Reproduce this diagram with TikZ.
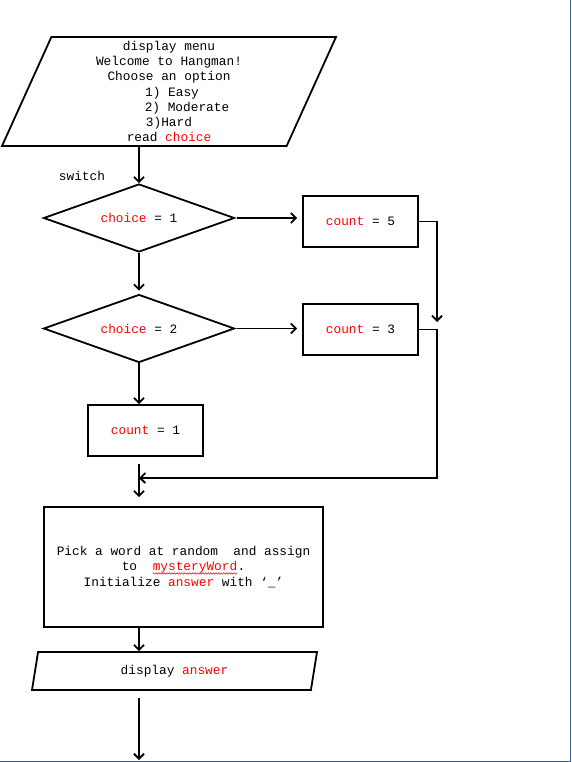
\documentclass[tikz,border=0pt]{standalone}
\usepackage{fontspec}
\usepackage{xcolor}
\usepackage{tikz}
\usetikzlibrary{arrows.meta,shapes.geometric,decorations.pathmorphing}
\newfontfamily\flowfont{Liberation Mono}
\definecolor{VarRed}{HTML}{FF0000}
\definecolor{PageEdge}{HTML}{3E5F8A}
\newcommand{\varname}[1]{\textcolor{VarRed}{#1}}
\newcommand{\squiggly}[1]{%
    \tikz[baseline=(sqw.base)]{%
        \node[inner sep=0pt, outer sep=0pt, minimum width=0pt, minimum height=0pt,
            draw=none, text=VarRed] (sqw) {#1};
        \draw[VarRed, line width=0.5pt, decorate,
            decoration={snake, amplitude=0.7pt, segment length=2.6pt}]
            ([yshift=-2.5pt]sqw.base west) -- ([yshift=-2.5pt]sqw.base east);
    }%
}
\tikzset{
    flowtext/.style={font=\flowfont\fontsize{12.8}{15.3}\selectfont, align=center},
    procbox/.style={flowtext, draw, line width=1.8pt, inner sep=0pt,
        minimum width=115pt, minimum height=51pt},
    decision/.style={flowtext, draw, line width=1.8pt, diamond, aspect=2.8,
        inner sep=0pt, minimum width=191pt, minimum height=68pt},
    iobox/.style={flowtext, draw, line width=1.8pt, trapezium,
        trapezium left angle=64, trapezium right angle=116,
        trapezium stretches body, inner sep=0pt},
    arr/.style={line width=1.8pt, -{Straight Barb[length=5pt,width=10pt]}}
}

\begin{document}
\begin{tikzpicture}[x=1pt,y=-1pt]
    \useasboundingbox (0,0) rectangle (571,762);
    \draw[PageEdge, line width=1.5pt] (570.25,0) -- (570.25,761.25) -- (0,761.25);

    \node[iobox, minimum width=334pt, minimum height=109pt] (menu) at (169,91.5)
        {display menu\\Welcome to Hangman!\\Choose an option\\
         \hspace*{6pt}1) Easy\\\hspace*{36pt}2) Moderate\\3)Hard\\
         read \varname{choice}};
    \node[flowtext] (sw) at (82,176) {switch};

    \node[decision] (c1) at (139,218) {\varname{choice} = 1};
    \node[decision] (c2) at (139,328.5) {\varname{choice} = 2};
    \node[procbox] (cnt5) at (360.5,221.5) {\varname{count} = 5};
    \node[procbox] (cnt3) at (360.5,329.5) {\varname{count} = 3};
    \node[procbox] (cnt1) at (145.5,430.5) {\varname{count} = 1};

    \node[procbox, minimum width=279pt, minimum height=120pt] (pick) at (183.5,567)
        {Pick a word at random~ and assign\\
         to~~\squiggly{mysteryWord}.\\
         Initialize \varname{answer} with ‘\_’};
    \node[iobox, minimum width=285pt, minimum height=38pt,
        trapezium left angle=63, trapezium right angle=117] (show) at (174.5,671)
        {display \varname{answer}};

    \coordinate (spine) at (139,478);
    \coordinate (rail) at (437,478);
    \coordinate (railend) at (437,322);
    \coordinate (out) at (139,760);

    \draw[arr] (c1.north |- menu.south) -- (c1.north);
    \draw[arr, shorten <=2pt, shorten >=5pt] (c1.east) -- (c1.east -| cnt5.west);
    \draw[arr, shorten >=3pt] (c1.south) -- (c2.north);
    \draw[arr, shorten <=2pt, shorten >=5pt] (c2.east) -- (c2.east -| cnt3.west);
    \draw[arr] (c2.south) -- (c2.south |- cnt1.north);
    \draw[arr] (cnt5.east) -| (railend);
    \draw[arr] (cnt3.east) -| (rail) -- (spine);
    \draw[arr, shorten <=7pt, shorten >=9pt] (spine |- cnt1.south) -- (spine |- pick.north);
    \draw[arr] (spine |- pick.south) -- (spine |- show.north);
    \draw[arr, shorten <=7pt] (spine |- show.south) -- (out);
\end{tikzpicture}
\end{document}
